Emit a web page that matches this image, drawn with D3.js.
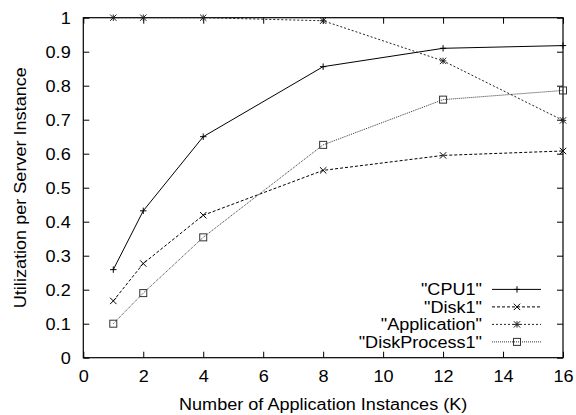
<!DOCTYPE html>
<html>
<head>
<meta charset="utf-8">
<script src="https://cdn.jsdelivr.net/npm/d3@7"></script>
<style>
  body { margin: 0; background: #fff; }
  text { font-family: "Liberation Sans", Arial, sans-serif; fill: #000; }
</style>
</head>
<body>
<div id="Container"></div>
<script>
// data
var instances = [1, 2, 4, 8, 12, 16];
var cpu1 = [0.259, 0.432, 0.65, 0.856, 0.91, 0.918];
var disk1 = [0.167, 0.277, 0.419, 0.551, 0.595, 0.608];
var application = [1.0, 1.0, 1.0, 0.991, 0.873, 0.698];
var diskProcess1 = [0.1, 0.19, 0.354, 0.626, 0.759, 0.786];
var xTicks = [0, 2, 4, 6, 8, 10, 12, 14, 16];
var yTicks = [0, 0.1, 0.2, 0.3, 0.4, 0.5, 0.6, 0.7, 0.8, 0.9, 1];

var series = [
  { name: '"CPU1"', values: cpu1, dash: null, stroke: '#000', marker: 'plus' },
  { name: '"Disk1"', values: disk1, dash: '3,2', stroke: '#000', marker: 'cross' },
  { name: '"Application"', values: application, dash: '2,2', stroke: '#222', marker: 'star' },
  { name: '"DiskProcess1"', values: diskProcess1, dash: '1,1', stroke: '#333', marker: 'square' }
];

var fs = 16, sx = 1.13;   // gnuplot text is a bit wider than Liberation
var margin = { top: 17.7, right: 13, bottom: 57.3, left: 83.3 },
    W = 576, H = 415,
    w = W - margin.left - margin.right,
    h = H - margin.top - margin.bottom;

var canvas = d3.select('#Container').append('svg')
    .attr('width', W)
    .attr('height', H);
var svg = canvas.append('g')
    .attr('transform', 'translate(' + margin.left + ',' + margin.top + ')');

var x = d3.scaleLinear().domain([0, 16]).range([0, w]);
var y = d3.scaleLinear().domain([0, 1]).range([h, 0]);

// stretch a label horizontally around its own anchor
function widen(sel) {
  sel.each(function () {
    var t = d3.select(this);
    var tx = +t.attr('x') || 0, ty = +t.attr('y') || 0;
    t.attr('x', 0).attr('y', 0)
     .attr('transform', 'translate(' + tx + ',' + ty + ')scale(' + sx + ',1)');
  });
}

function styleAxis(g) {
  g.select('.domain').remove();
  g.selectAll('line').attr('stroke', '#000').attr('stroke-width', 1);
  g.selectAll('text').attr('font-size', fs)
    .style('font-family', '"Liberation Sans", Arial, sans-serif');
}
// axes with inward ticks, mirrored on top/right
svg.append('g')
    .attr('transform', 'translate(0,' + h + ')')
    .call(d3.axisBottom(x).tickValues(xTicks).tickSize(-6).tickPadding(12.6).tickFormat(d3.format('d')))
    .call(styleAxis)
    .selectAll('text').call(widen);
svg.append('g')
    .call(d3.axisTop(x).tickValues(xTicks).tickSize(-6).tickFormat(''))
    .call(styleAxis);
svg.append('g')
    .call(d3.axisLeft(y).tickValues(yTicks).tickSize(-6).tickPadding(12.6)
      .tickFormat(function (d) { return d === 0 ? '0' : d === 1 ? '1' : d3.format('.1f')(d); }))
    .call(styleAxis)
    .selectAll('text').attr('dy', '0.35em').call(widen);
svg.append('g')
    .attr('transform', 'translate(' + w + ',0)')
    .call(d3.axisRight(y).tickValues(yTicks).tickSize(-6).tickFormat(''))
    .call(styleAxis);

svg.append('rect')
    .attr('x', 0).attr('y', 0).attr('width', w).attr('height', h)
    .attr('fill', 'none').attr('stroke', '#000').attr('stroke-width', 1.2);

// axis titles
canvas.append('text')
    .attr('transform', 'translate(' + (margin.left + w / 2) + ',409.5)scale(' + sx + ',1)')
    .attr('text-anchor', 'middle')
    .attr('font-size', fs)
    .text('Number of Application Instances (K)');
canvas.append('text')
    .attr('transform', 'translate(25.5,' + (margin.top + h / 2) + ')rotate(-90)scale(' + sx + ',1)')
    .attr('text-anchor', 'middle')
    .attr('font-size', fs)
    .text('Utilization per Server Instance');

function drawMarker(g, type, cx, cy, col) {
  var s = 3.2;
  if (type === 'plus' || type === 'star') {
    g.append('path').attr('d', 'M' + (cx - s) + ',' + cy + 'H' + (cx + s) + 'M' + cx + ',' + (cy - s) + 'V' + (cy + s))
      .attr('stroke', col).attr('stroke-width', 1).attr('fill', 'none');
  }
  if (type === 'cross' || type === 'star') {
    g.append('path').attr('d', 'M' + (cx - s) + ',' + (cy - s) + 'L' + (cx + s) + ',' + (cy + s) + 'M' + (cx - s) + ',' + (cy + s) + 'L' + (cx + s) + ',' + (cy - s))
      .attr('stroke', col).attr('stroke-width', 1).attr('fill', 'none');
  }
  if (type === 'square') {
    g.append('rect').attr('x', cx - 3.5).attr('y', cy - 3.5).attr('width', 7).attr('height', 7)
      .attr('stroke', col).attr('stroke-width', 1).attr('fill', 'none');
  }
}

var line = d3.line()
    .x(function (d, i) { return x(instances[i]); })
    .y(function (d) { return y(d); });

series.forEach(function (s) {
  var g = svg.append('g');
  g.append('path')
      .datum(s.values)
      .attr('d', line)
      .attr('fill', 'none')
      .attr('stroke', s.stroke)
      .attr('stroke-width', 1)
      .attr('stroke-dasharray', s.dash);
  s.values.forEach(function (v, i) {
    drawMarker(g, s.marker, x(instances[i]), y(v), s.stroke);
  });
});

// legend
var legend = canvas.append('g');
series.forEach(function (s, i) {
  var ly = 289.4 + i * 17.5;
  legend.append('text')
      .attr('transform', 'translate(482,' + (ly + 5.7) + ')scale(' + sx + ',1)')
      .attr('text-anchor', 'end')
      .attr('font-size', fs)
      .text(s.name);
  legend.append('line')
      .attr('x1', 492).attr('x2', 541).attr('y1', ly).attr('y2', ly)
      .attr('stroke', s.stroke).attr('stroke-width', 1)
      .attr('stroke-dasharray', s.dash);
  drawMarker(legend, s.marker, 517, ly, s.stroke);
});
</script>
</body>
</html>
